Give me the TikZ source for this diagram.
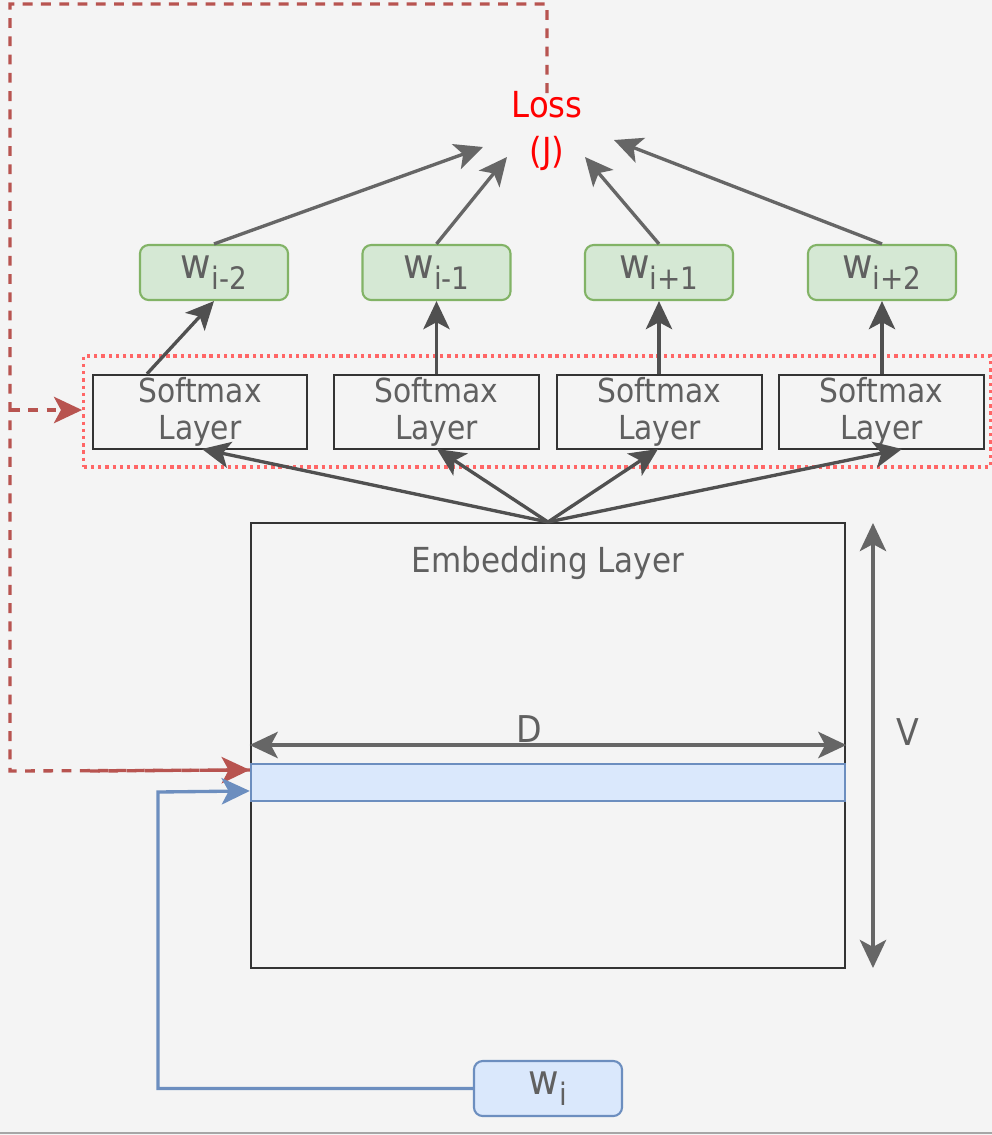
\documentclass[tikz,border=0pt]{standalone}
\usepackage{fontspec}
\setmainfont{DejaVu Sans Condensed}
\usetikzlibrary{arrows.meta,calc}
\definecolor{bg}{HTML}{F4F4F4}
\definecolor{txt}{HTML}{606060}
\definecolor{arr}{HTML}{666666}
\definecolor{arrd}{HTML}{505050}
\definecolor{gfill}{HTML}{D5E8D4}
\definecolor{gline}{HTML}{82B366}
\definecolor{bfill}{HTML}{DAE8FC}
\definecolor{bline}{HTML}{6C8EBF}
\definecolor{rdash}{HTML}{B85450}
\definecolor{rdot}{HTML}{FF6666}
\definecolor{boxline}{HTML}{333333}
\newcommand{\wsub}[1]{{\fontsize{11.8}{13}\selectfont w\raisebox{-3.2pt}{\fontsize{8.8}{9}\selectfont #1}}}
\tikzset{
  tip/.tip={Stealth[length=8pt,width=7.5pt,inset=2pt]},
  gbox/.style={draw=gline, fill=gfill, line width=0.6pt, rounded corners=2.5pt,
    minimum width=1.48cm, minimum height=0.55cm, inner sep=0pt, text=txt},
  bbox/.style={draw=bline, fill=bfill, line width=0.6pt, rounded corners=2.5pt,
    minimum width=1.48cm, minimum height=0.55cm, inner sep=0pt, text=txt},
  smbox/.style={draw=boxline, line width=0.65pt, minimum height=0.74cm, inner sep=0pt,
    text=txt, align=center, font=\fontsize{9.4}{10.6}\selectfont},
  arrowg/.style={draw=arr, line width=0.95pt, -tip},
  arrowd/.style={draw=arrd, line width=0.95pt, -tip},
  dimarrow/.style={draw=arr, line width=0.95pt, tip-tip},
  reddash/.style={draw=rdash, line width=0.95pt, dash pattern=on 2.8pt off 2.4pt},
  redtip/.style={-{Stealth[length=8pt,width=7.5pt,inset=2pt,fill=rdash]}},
  bluearrow/.style={draw=bline, line width=0.95pt, -tip},
  lbl/.style={text=txt, inner sep=0pt}
}
\begin{document}
\begin{tikzpicture}[x=0.01cm,y=-0.01cm]
\fill[bg] (0,0) rectangle (992,1135);
\useasboundingbox (0,0) rectangle (992,1135);
\draw[draw=gray!70, line width=0.6pt] (0,1133) -- (992,1133);

% dotted group
\node[draw=rdot, line width=0.95pt, dash pattern=on 0.95pt off 1.1pt, minimum width=9.06cm, minimum height=1.11cm, inner sep=0pt] (smgroup) at (537,411.5) {};

% softmax layers
\node[smbox, minimum width=2.14cm] (s1) at (200,412) {Softmax\\Layer};
\node[smbox, minimum width=2.05cm] (s2) at (436.5,412) {Softmax\\Layer};
\node[smbox, minimum width=2.05cm] (s3) at (659.5,412) {Softmax\\Layer};
\node[smbox, minimum width=2.05cm] (s4) at (881.5,412) {Softmax\\Layer};

% output words
\node[gbox] (g1) at (214,272.5) {\wsub{i-2}};
\node[gbox] (g2) at (436.5,272.5) {\wsub{i-1}};
\node[gbox] (g3) at (659,272.5) {\wsub{i+1}};
\node[gbox] (g4) at (882,272.5) {\wsub{i+2}};

% loss
\node[text=red, align=center, inner sep=0pt, font=\fontsize{10.2}{12.8}\selectfont] (loss) at (547,131) {Loss\\(J)};
\coordinate (l1) at (483,147);
\coordinate (l2) at (507,157);
\coordinate (l3) at (585,157);
\coordinate (l4) at (614,140);

% embedding
\node[draw=boxline, line width=0.65pt, minimum width=5.94cm, minimum height=4.45cm, inner sep=0pt] (emb) at (548,745.5) {};
\node[lbl, font=\fontsize{9.8}{11}\selectfont] (embl) at (548,563) {Embedding Layer};
\node[draw=bline, fill=bfill, line width=0.6pt, minimum width=5.94cm, minimum height=0.37cm, inner sep=0pt] (band) at (548,782.5) {};

% dimension arrows
\draw[dimarrow] (emb.west |- 0,745) -- (emb.east |- 0,745);
\node[lbl, font=\fontsize{10.5}{12}\selectfont] (dl) at (529,729) {D};
\coordinate (vt) at (873,523);
\coordinate (vb) at (873,968);
\draw[dimarrow] (vt) -- (vb);
\node[lbl, font=\fontsize{10.5}{12}\selectfont] (vl) at (908,732) {V};

% input word
\node[bbox] (wi) at (548,1088.5) {\wsub{i}};

% arrows: softmax -> words
\draw[arrowd] (s1.north -| 147,0) -- (g1.south);
\draw[arrowd] (s2.north) -- (g2.south);
\draw[arrowd] (s3.north -| g3.south) -- (g3.south);
\draw[arrowd] (s4.north -| g4.south) -- (g4.south);

% arrows: words -> loss
\draw[arrowg] (g1.north) -- (l1);
\draw[arrowg] (g2.north) -- (l2);
\draw[arrowg] (g3.north) -- (l3);
\draw[arrowg] (g4.north) -- (l4);

% arrows: embedding -> softmax
\coordinate (et) at (548,522);
\draw[arrowd] (et) -- (202,449);
\draw[arrowd] (et) -- (437,449);
\draw[arrowd] (et) -- (658,449);
\draw[arrowd] (et) -- (902,449);

% red dashed feedback
\draw[reddash] (547,93) -- (547,4) -- (10,4) -- (10,771) -- ($(band.north west)+(0,7)$);
\draw[reddash, redtip] (90,771) -- ($(band.north west)+(0,7)$);
\draw[reddash, redtip] (10,410) -- (smgroup.west |- 0,410);

% blue input
\draw[bluearrow] (wi.west) -| (158,792) -- ($(band.north west)+(0,28)$);
\end{tikzpicture}
\end{document}
